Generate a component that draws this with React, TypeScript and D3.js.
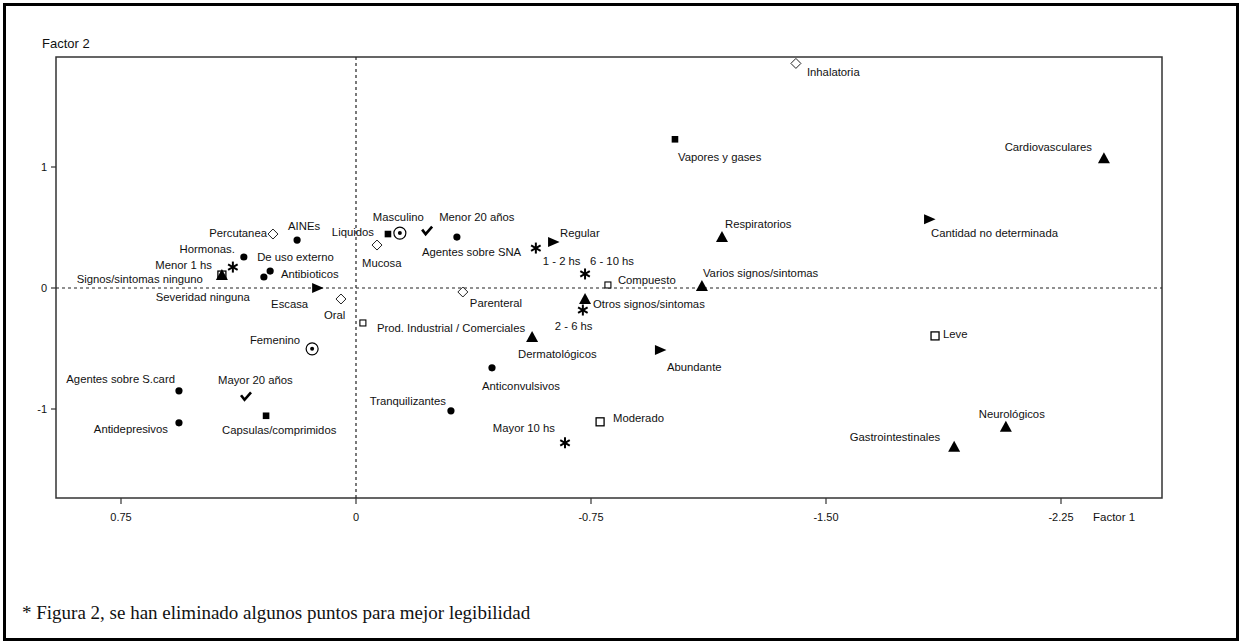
import React from "react";
import * as d3 from "d3";

// ---------- data (Factor 1, Factor 2 coordinates) ----------
const drugClasses = [
  { name: "AINEs", f1: 0.188, f2: 0.396 },
  { name: "Hormonas.", f1: 0.358, f2: 0.256 },
  { name: "De uso externo", f1: 0.274, f2: 0.14 },
  { name: "Antibioticos", f1: 0.294, f2: 0.091 },
  { name: "Agentes sobre S.card", f1: 0.565, f2: -0.85 },
  { name: "Antidepresivos", f1: 0.565, f2: -1.114 },
  { name: "Agentes sobre SNA", f1: -0.322, f2: 0.421 },
  { name: "Anticonvulsivos", f1: -0.434, f2: -0.66 },
  { name: "Tranquilizantes", f1: -0.303, f2: -1.015 },
];
const routes = [
  { name: "Percutanea", f1: 0.265, f2: 0.446 },
  { name: "Mucosa", f1: -0.067, f2: 0.355 },
  { name: "Oral", f1: 0.048, f2: -0.091 },
  { name: "Parenteral", f1: -0.341, f2: -0.033 },
  { name: "Inhalatoria", f1: -1.404, f2: 1.856 },
];
const forms = [
  { name: "Liquidos", f1: -0.102, f2: 0.446 },
  { name: "Capsulas/comprimidos", f1: 0.287, f2: -1.056 },
  { name: "Vapores y gases", f1: -1.018, f2: 1.229 },
];
const sexes = [
  { name: "Masculino", f1: -0.14, f2: 0.454 },
  { name: "Femenino", f1: 0.14, f2: -0.503 },
];
const ages = [
  { name: "Menor 20 años", f1: -0.227, f2: 0.47 },
  { name: "Mayor 20 años", f1: 0.351, f2: -0.899 },
];
const times = [
  { name: "Menor 1 hs", f1: 0.393, f2: 0.173 },
  { name: "1 - 2 hs", f1: -0.574, f2: 0.33 },
  { name: "6 - 10 hs", f1: -0.731, f2: 0.116 },
  { name: "2 - 6 hs", f1: -0.724, f2: -0.182 },
  { name: "Mayor 10 hs", f1: -0.667, f2: -1.279 },
];
const quantities = [
  { name: "Escasa", f1: 0.124, f2: 0.0 },
  { name: "Regular", f1: -0.629, f2: 0.38 },
  { name: "Abundante", f1: -0.97, f2: -0.512 },
  { name: "Cantidad no determinada", f1: -1.829, f2: 0.569 },
];
const signs = [
  { name: "Signos/sintomas ninguno", f1: 0.428, f2: 0.107 },
  { name: "Respiratorios", f1: -1.168, f2: 0.421 },
  { name: "Varios signos/sintomas", f1: -1.104, f2: 0.017 },
  { name: "Otros signos/sintomas", f1: -0.731, f2: -0.091 },
  { name: "Dermatológicos", f1: -0.562, f2: -0.404 },
  { name: "Cardiovasculares", f1: -2.387, f2: 1.073 },
  { name: "Neurológicos", f1: -2.074, f2: -1.147 },
  { name: "Gastrointestinales", f1: -1.909, f2: -1.312 },
];
const productTypes = [
  { name: "Prod. Industrial / Comerciales", f1: -0.022, f2: -0.289 },
  { name: "Compuesto", f1: -0.804, f2: 0.025 },
];
const severities = [
  { name: "Severidad ninguna", f1: 0.428, f2: 0.107 },
  { name: "Leve", f1: -1.848, f2: -0.396 },
  { name: "Moderado", f1: -0.779, f2: -1.106 },
];

const xTickValues = [0.75, 0, -0.75, -1.5, -2.25];
const xTickLabels = ["0.75", "0", "-0.75", "-1.50", "-2.25"];
const yTickValues = [1, 0, -1];
const yTickLabels = ["1", "0", "-1"];

const xAxisTitle = "Factor 1";
const yAxisTitle = "Factor 2";
const caption = "* Figura 2, se han eliminado algunos puntos para mejor legibilidad";

// ---------- label placement (pixels relative to marker) ----------
const labelPlacement: Record<string, [number, number, string]> = {
  "AINEs": [-9, -14, "start"],
  "Hormonas.": [-9, -8, "end"],
  "De uso externo": [-13, -14, "start"],
  "Antibioticos": [17, -3, "start"],
  "Agentes sobre S.card": [-4, -12, "end"],
  "Antidepresivos": [-11, 6, "end"],
  "Agentes sobre SNA": [-35, 15, "start"],
  "Anticonvulsivos": [-10, 18, "start"],
  "Tranquilizantes": [-5, -10, "end"],
  "Percutanea": [-6, -1, "end"],
  "Mucosa": [-15, 18, "start"],
  "Oral": [-17, 16, "start"],
  "Parenteral": [7, 11, "start"],
  "Inhalatoria": [11, 9, "start"],
  "Liquidos": [-14, -2, "end"],
  "Capsulas/comprimidos": [-44, 14, "start"],
  "Vapores y gases": [3, 18, "start"],
  "Masculino": [-27, -16, "start"],
  "Femenino": [-12, -9, "end"],
  "Menor 20 años": [12, -14, "start"],
  "Mayor 20 años": [-28, -17, "start"],
  "Menor 1 hs": [-21, -2, "end"],
  "1 - 2 hs": [7, 13, "start"],
  "6 - 10 hs": [5, -13, "start"],
  "2 - 6 hs": [-28, 16, "start"],
  "Mayor 10 hs": [-10, -15, "end"],
  "Escasa": [-9, 16, "end"],
  "Regular": [7, -9, "start"],
  "Abundante": [7, 17, "start"],
  "Cantidad no determinada": [2, 14, "start"],
  "Signos/sintomas ninguno": [-19, 4, "end"],
  "Respiratorios": [3, -13, "start"],
  "Varios signos/sintomas": [1, -13, "start"],
  "Otros signos/sintomas": [8, 5, "start"],
  "Dermatológicos": [-14, 17, "start"],
  "Cardiovasculares": [-12, -11, "end"],
  "Neurológicos": [-27, -13, "start"],
  "Gastrointestinales": [-14, -10, "end"],
  "Prod. Industrial / Comerciales": [14, 5, "start"],
  "Compuesto": [10, -5, "start"],
  "Severidad ninguna": [28, 22, "end"],
  "Leve": [8, -2, "start"],
  "Moderado": [13, -4, "start"],
};

type Pt = { name: string; f1: number; f2: number };

const W = 1242;
const H = 644;
const plot = { left: 56, top: 57, right: 1162, bottom: 498 };

const x = d3.scaleLinear().domain([0.75, -2.25]).range([121, 1061]);
const y = d3.scaleLinear().domain([1, -1]).range([167, 409]);

const labelFont = "'Liberation Sans', Arial, sans-serif";

function Marker({ kind }: { kind: string }) {
  switch (kind) {
    case "circle":
      return <circle r={3.6} fill="#000" />;
    case "diamond":
      return <path d="M0,-5L5,0L0,5L-5,0Z" fill="#fff" stroke="#222" strokeWidth={1} />;
    case "fsquare":
      return <rect x={-3.3} y={-3.3} width={6.6} height={6.6} fill="#000" />;
    case "bullseye":
      return (
        <g>
          <circle r={6} fill="#fff" stroke="#000" strokeWidth={1.2} />
          <circle r={2} fill="#000" />
        </g>
      );
    case "check":
      return <path d="M-5,-1.5L-1.5,3L5,-4.5" fill="none" stroke="#000" strokeWidth={2.6} strokeLinejoin="miter" />;
    case "star": {
      const arms = d3.range(3).map((i) => {
        const a = (Math.PI / 3) * i + Math.PI / 2;
        const r = 5.5;
        return (
          <line key={i} x1={-r * Math.cos(a)} y1={-r * Math.sin(a)} x2={r * Math.cos(a)} y2={r * Math.sin(a)} stroke="#000" strokeWidth={2} />
        );
      });
      return <g>{arms}</g>;
    }
    case "rtri":
      return <path d="M-5,-5L6.5,0L-5,5Z" fill="#000" />;
    case "utri":
      return <path d="M0,-6L6,5L-6,5Z" fill="#000" />;
    case "ssquare":
      return <rect x={-3} y={-3} width={6} height={6} fill="#fff" stroke="#000" strokeWidth={1.1} />;
    case "osquare":
      return <rect x={-4} y={-4} width={8} height={8} fill="#fff" stroke="#000" strokeWidth={1.3} />;
    default:
      return null;
  }
}

function Group({ data, kind }: { data: Pt[]; kind: string }) {
  return (
    <g>
      {data.map((d) => (
        <g key={d.name} transform={`translate(${x(d.f1)},${y(d.f2)})`}>
          <Marker kind={kind} />
        </g>
      ))}
    </g>
  );
}

function Labels({ data }: { data: Pt[] }) {
  return (
    <g>
      {data.map((d) => {
        const p = labelPlacement[d.name] || [6, 0, "start"];
        return (
          <text
            key={d.name}
            x={x(d.f1) + p[0]}
            y={y(d.f2) + p[1]}
            dy="0.35em"
            textAnchor={p[2] as any}
            fontFamily={labelFont}
            fontSize={11.3}
            fill="#111"
          >
            {d.name}
          </text>
        );
      })}
    </g>
  );
}

export default function App() {
  const groups: [Pt[], string][] = [
    [severities, "osquare"],
    [productTypes, "ssquare"],
    [drugClasses, "circle"],
    [routes, "diamond"],
    [forms, "fsquare"],
    [sexes, "bullseye"],
    [ages, "check"],
    [times, "star"],
    [quantities, "rtri"],
    [signs, "utri"],
  ];
  return (
    <svg
      width={W}
      height={H}
      style={{ position: "absolute", left: 0, top: 0, background: "#fff" }}
    >
      <rect x={0} y={0} width={W} height={H} fill="#fff" />
      <rect x={4.5} y={4.5} width={1233} height={635} fill="none" stroke="#000" strokeWidth={3} />

      {/* plot frame */}
      <rect
        x={plot.left}
        y={plot.top}
        width={plot.right - plot.left}
        height={plot.bottom - plot.top}
        fill="none"
        stroke="#333"
        strokeWidth={1.5}
      />

      {/* zero reference lines */}
      <line x1={x(0)} x2={x(0)} y1={plot.top} y2={plot.bottom} stroke="#222" strokeWidth={1.2} strokeDasharray="3,3" />
      <line x1={plot.left} x2={plot.right} y1={y(0)} y2={y(0)} stroke="#222" strokeWidth={1.2} strokeDasharray="3,3" />

      {/* x axis ticks */}
      {xTickValues.map((v, i) => (
        <g key={"xt" + i}>
          <line x1={x(v)} x2={x(v)} y1={plot.bottom} y2={plot.bottom + 6} stroke="#333" strokeWidth={1.2} />
          <text x={x(v)} y={plot.bottom + 19} dy="0.35em" textAnchor="middle" fontFamily={labelFont} fontSize={11} fill="#111">
            {xTickLabels[i]}
          </text>
        </g>
      ))}
      <text x={1093} y={plot.bottom + 19} dy="0.35em" fontFamily={labelFont} fontSize={11.5} fill="#111">
        {xAxisTitle}
      </text>

      {/* y axis ticks */}
      {yTickValues.map((v, i) => (
        <g key={"yt" + i}>
          <line x1={plot.left - 5} x2={plot.left} y1={y(v)} y2={y(v)} stroke="#333" strokeWidth={1.2} />
          <text x={plot.left - 9} y={y(v)} dy="0.35em" textAnchor="end" fontFamily={labelFont} fontSize={11} fill="#111">
            {yTickLabels[i]}
          </text>
        </g>
      ))}
      <text x={42} y={43} dy="0.35em" fontFamily={labelFont} fontSize={13} fill="#111">
        {yAxisTitle}
      </text>

      {/* markers */}
      {groups.map(([data, kind]) => (
        <Group key={kind} data={data} kind={kind} />
      ))}

      {/* labels */}
      {groups.map(([data, kind]) => (
        <Labels key={"l" + kind} data={data} />
      ))}

      {/* caption */}
      <text x={22} y={619} fontFamily="'Liberation Serif', 'Times New Roman', serif" fontSize={19} fill="#111">
        {caption}
      </text>
    </svg>
  );
}
